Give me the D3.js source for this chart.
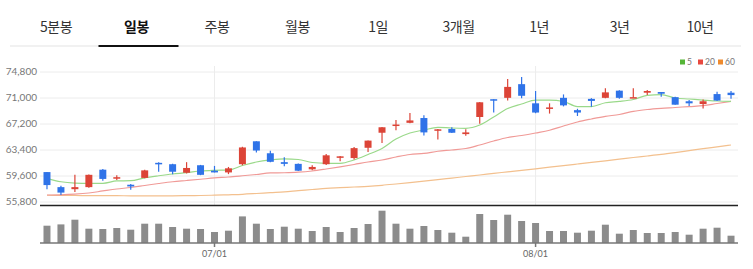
<!DOCTYPE html>
<html>
<head>
<meta charset="utf-8">
<script src="https://cdn.jsdelivr.net/npm/d3@7"></script>
<style>
  html, body { margin: 0; padding: 0; background: #fff; }
  svg { display: block; }
</style>
</head>
<body>
<svg id="chart" width="753" height="269"></svg>
<script>
// ---------------------------------------------------------------------------
// data
// ---------------------------------------------------------------------------
const tabs = ['5분봉', '일봉', '주봉', '월봉', '1일', '3개월', '1년', '3년', '10년'];
const activeTab = '일봉';

const dates = [
    '06/13', '06/14', '06/17', '06/18', '06/19', '06/20', '06/21', '06/24', '06/25', '06/26',
    '06/27', '06/28', '07/01', '07/02', '07/03', '07/04', '07/05', '07/08', '07/09', '07/10',
    '07/11', '07/12', '07/15', '07/16', '07/17', '07/18', '07/19', '07/22', '07/23', '07/24',
    '07/25', '07/26', '07/29', '07/30', '07/31', '08/01', '08/02', '08/05', '08/06', '08/07',
    '08/08', '08/09', '08/12', '08/13', '08/14', '08/16', '08/19', '08/20', '08/21', '08/22'
];

const open = [
    60100, 57900, 57600, 57900, 60450, 59150, 58250, 59250, 61450, 61250,
    60000, 61100, 60300, 60050, 61250, 64600, 62850, 61550, 61300, 60500,
    61250, 62200, 62150, 63650, 65850, 66950, 67300, 68000, 66150, 66400,
    65650, 68150, 70750, 70950, 72950, 70150, 69350, 70950, 69150, 70800,
    70950, 72000, 70950, 71700, 71800, 71050, 70450, 70050, 71500, 71700
];
const high = [
    60100, 58100, 59700, 59750, 60550, 59650, 58350, 60450, 61550, 61300,
    61550, 61150, 61000, 60850, 63800, 64600, 63200, 62250, 61350, 61100,
    62750, 62450, 63750, 64700, 66700, 67700, 68750, 68400, 66400, 66650,
    66350, 70350, 70750, 73700, 74000, 71950, 70150, 71450, 69350, 70900,
    72350, 72050, 72350, 72100, 71800, 71100, 70650, 70700, 71850, 71950
];
const low = [
    57600, 56750, 57200, 57800, 58850, 58950, 57500, 59200, 60150, 59800,
    59900, 59650, 60050, 59800, 61100, 62950, 61550, 60950, 60250, 60350,
    61150, 61700, 61950, 63050, 64350, 66200, 67250, 65450, 64850, 65800,
    65400, 67150, 68800, 70550, 70900, 68700, 68650, 69700, 68300, 69650,
    70900, 70800, 70950, 71350, 71100, 69950, 69750, 69400, 70500, 70800
];
const close = [
    58200, 57100, 57900, 59700, 59100, 59350, 58000, 60350, 61300, 60150,
    60700, 59700, 60050, 60650, 63700, 63250, 61600, 61300, 60300, 60850,
    62550, 62400, 63600, 64700, 66650, 67050, 67650, 65900, 66350, 65850,
    65900, 70300, 70550, 72550, 71250, 68800, 69550, 69850, 68800, 70500,
    71750, 70950, 71050, 71950, 71550, 69950, 70150, 70450, 70550, 71350
];

// volume, million shares
const volume = [
    17.3, 18.6, 23.3, 14.3, 14.0, 15.0, 13.3, 19.3, 19.3, 16.0,
    14.3, 14.0, 11.0, 12.3, 26.6, 19.3, 14.0, 16.3, 14.3, 12.0,
    16.0, 11.0, 15.0, 19.0, 32.3, 19.3, 14.3, 17.0, 13.0, 10.3,
    6.3, 29.0, 23.0, 28.3, 22.0, 20.0, 12.0, 12.0, 10.3, 12.3,
    18.3, 9.3, 13.0, 10.0, 10.0, 11.0, 8.3, 14.3, 15.3, 7.3
];

// moving averages as drawn
const ma5 = [
    59190, 58690, 58500, 58460, 58460, 58800, 58840, 59260, 59560, 59820,
    60010, 60260, 60360, 60400, 61060, 61570, 61870, 62040, 61940, 61500,
    61380, 61380, 61870, 62670, 63550, 64930, 65810, 66250, 66640, 66540,
    66500, 66980, 68150, 69390, 70050, 70630, 70630, 70420, 69680, 69680,
    70230, 70420, 70710, 71320, 71410, 70930, 70780, 70630, 70490, 70440
];
const ma20 = [
    56750, 56780, 56870, 57040, 57340, 57630, 57850, 58140, 58430, 58690,
    58870, 59050, 59240, 59380, 59560, 59750, 59970, 60000, 60080, 60260,
    60550, 60870, 61210, 61570, 61870, 62300, 62670, 62820, 63140, 63330,
    63550, 64060, 64640, 65150, 65450, 65810, 66210, 66830, 67420, 67860,
    68250, 68520, 68980, 69250, 69420, 69540, 69680, 69800, 70120, 70420
];
const ma60 = [
    56710, 56690, 56680, 56660, 56650, 56650, 56630, 56630, 56630, 56630,
    56650, 56680, 56720, 56780, 56850, 56970, 57100, 57220, 57390, 57550,
    57720, 57820, 57920, 58020, 58170, 58360, 58560, 58770, 58990, 59220,
    59450, 59670, 59910, 60130, 60360, 60580, 60810, 61050, 61280, 61510,
    61750, 61980, 62230, 62450, 62680, 62950, 63240, 63530, 63790, 64060
];

const maSeries = [
    { name: '5', values: ma5, line: '#9ad98a', key: '#55b537' },
    { name: '20', values: ma20, line: '#f09a97', key: '#e8493f' },
    { name: '60', values: ma60, line: '#f3c08e', key: '#ee8a2e' }
];

const yTicks = [55800, 59600, 63400, 67200, 71000, 74800];
const xTicks = ['07/01', '08/01'];

// ---------------------------------------------------------------------------
// layout
// ---------------------------------------------------------------------------
const plotLeft = 40, plotRight = 738;
const priceTop = 66, priceBottom = 205.5;
const volTop = 210, volBottom = 243;

const UP = '#dc4437';
const DOWN = '#2f73e8';

const svg = d3.select('#chart');

// ---------------------------------------------------------------------------
// tabs
// ---------------------------------------------------------------------------
const tabX = d3.scalePoint().domain(tabs).range([56, 700]);

svg.append('line')
    .attr('x1', 10).attr('x2', 741)
    .attr('y1', 46).attr('y2', 46)
    .attr('stroke', '#e3e3e3').attr('stroke-width', 1);

svg.selectAll('.tab')
    .data(tabs)
    .join('text')
    .attr('class', 'tab')
    .attr('x', d => tabX(d))
    .attr('y', 31.5)
    .attr('text-anchor', 'middle')
    .attr('font-family', '"Noto Sans CJK KR", "Noto Sans", sans-serif')
    .attr('font-size', 14)
    .attr('font-weight', d => d === activeTab ? 700 : 400)
    .attr('fill', d => d === activeTab ? '#111' : '#333')
    .attr('letter-spacing', -0.5)
    .text(d => d);

svg.append('rect')
    .attr('x', tabX(activeTab) - 38)
    .attr('y', 45)
    .attr('width', 80)
    .attr('height', 2)
    .attr('fill', '#111');

// ---------------------------------------------------------------------------
// scales
// ---------------------------------------------------------------------------
const x = d3.scaleBand()
    .domain(dates)
    .range([plotLeft, plotRight])
    .paddingInner(0.5)
    .paddingOuter(0.25);

const cx = d => x(d) + x.bandwidth() / 2;

const y = d3.scaleLinear()
    .domain([55800, 74800])
    .range([201.5, 71.5]);

const yVol = d3.scaleLinear()
    .domain([0, 33])
    .range([volBottom, volTop]);

// ---------------------------------------------------------------------------
// grid + y axis
// ---------------------------------------------------------------------------
const yAxis = svg.append('g')
    .attr('transform', `translate(${plotLeft},0)`)
    .call(d3.axisLeft(y)
        .tickValues(yTicks)
        .tickSize(-(plotRight - plotLeft))
        .tickPadding(3)
        .tickFormat(d3.format(',')));
yAxis.select('.domain').remove();
yAxis.selectAll('.tick line').attr('stroke', '#ececec');
yAxis.selectAll('.tick text')
    .attr('fill', '#777')
    .attr('font-size', 10)
    .attr('font-family', 'Lato, "Noto Sans", sans-serif');

// vertical grid at month starts
svg.selectAll('.vgrid')
    .data(xTicks)
    .join('line')
    .attr('class', 'vgrid')
    .attr('x1', d => cx(d)).attr('x2', d => cx(d))
    .attr('y1', priceTop).attr('y2', priceBottom)
    .attr('stroke', '#ececec');

// ---------------------------------------------------------------------------
// moving averages
// ---------------------------------------------------------------------------
const maLine = d3.line()
    .x((v, i) => cx(dates[i]))
    .y(v => y(v))
    .curve(d3.curveMonotoneX);

svg.selectAll('.ma')
    .data(maSeries.slice().reverse())
    .join('path')
    .attr('class', 'ma')
    .attr('d', d => maLine(d.values))
    .attr('fill', 'none')
    .attr('stroke', d => d.line)
    .attr('stroke-width', 1.2);

// ---------------------------------------------------------------------------
// candles
// ---------------------------------------------------------------------------
const candles = svg.append('g')
    .selectAll('g')
    .data(dates.map((d, i) => ({ d, o: open[i], h: high[i], l: low[i], c: close[i] })))
    .join('g');

candles.append('line')
    .attr('x1', k => cx(k.d)).attr('x2', k => cx(k.d))
    .attr('y1', k => y(k.h)).attr('y2', k => y(k.l))
    .attr('stroke', k => k.c >= k.o ? UP : DOWN)
    .attr('stroke-width', 1.2);

candles.append('rect')
    .attr('x', k => x(k.d))
    .attr('width', x.bandwidth())
    .attr('y', k => y(Math.max(k.o, k.c)))
    .attr('height', k => Math.max(1.5, Math.abs(y(k.o) - y(k.c))))
    .attr('fill', k => k.c >= k.o ? UP : DOWN);

// separator between price and volume
svg.append('line')
    .attr('x1', plotLeft).attr('x2', plotRight)
    .attr('y1', priceBottom).attr('y2', priceBottom)
    .attr('stroke', '#222').attr('stroke-width', 1.5);

// ---------------------------------------------------------------------------
// volume
// ---------------------------------------------------------------------------
svg.append('g')
    .selectAll('rect')
    .data(volume)
    .join('rect')
    .attr('x', (v, i) => x(dates[i]))
    .attr('width', x.bandwidth())
    .attr('y', v => yVol(v))
    .attr('height', v => yVol(0) - yVol(v))
    .attr('fill', '#8c8c8c');

const xAxis = svg.append('g')
    .attr('transform', `translate(0,${volBottom})`)
    .call(d3.axisBottom(x)
        .tickValues(xTicks)
        .tickSize(4)
        .tickPadding(4));
xAxis.select('.domain')
    .attr('d', `M${plotLeft},0H${plotRight}`)
    .attr('stroke', '#777').attr('stroke-width', 1.5);
xAxis.selectAll('.tick line').attr('stroke', '#777').attr('stroke-width', 1.5);
xAxis.selectAll('.tick text')
    .attr('fill', '#666')
    .attr('font-size', 9)
    .attr('font-family', 'Lato, "Noto Sans", sans-serif');

// ---------------------------------------------------------------------------
// legend
// ---------------------------------------------------------------------------
const legendX = d3.scaleOrdinal()
    .domain(maSeries.map(s => s.name))
    .range([680, 698, 718]);

const legend = svg.append('g')
    .selectAll('g')
    .data(maSeries)
    .join('g')
    .attr('transform', d => `translate(${legendX(d.name)},62)`);

legend.append('rect')
    .attr('x', 0).attr('y', -2.5)
    .attr('width', 5).attr('height', 5)
    .attr('fill', d => d.key);

legend.append('text')
    .attr('x', 7).attr('y', 3)
    .attr('font-size', 8.5)
    .attr('font-family', 'Lato, "Noto Sans", sans-serif')
    .attr('fill', '#777')
    .text(d => d.name);
</script>
</body>
</html>
